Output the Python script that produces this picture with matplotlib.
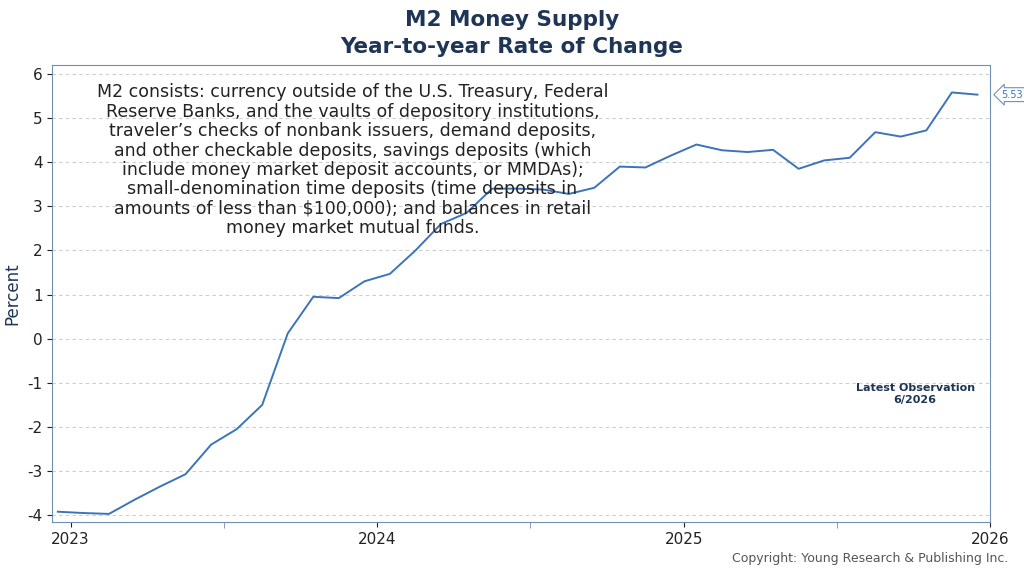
import numpy as np
import matplotlib.pyplot as plt

# monthly YoY % change, mid-Dec 2022 .. mid-Dec 2025
values = [-3.92, -3.95, -3.97, -3.65, -3.35, -3.07, -2.40, -2.05, -1.50, 0.12,
          0.95, 0.92, 1.30, 1.47, 2.00, 2.60, 2.85, 3.40, 3.40, 3.38,
          3.28, 3.42, 3.90, 3.88, 4.15, 4.40, 4.27, 4.23, 4.28, 3.85,
          4.04, 4.10, 4.68, 4.58, 4.72, 5.58, 5.53]
x = [2023 + (i - 0.5) / 12 for i in range(len(values))]
year_ticks = [2023, 2024, 2025, 2026]
note = ("M2 consists: currency outside of the U.S. Treasury, Federal\n"
        "Reserve Banks, and the vaults of depository institutions,\n"
        "traveler\u2019s checks of nonbank issuers, demand deposits,\n"
        "and other checkable deposits, savings deposits (which\n"
        "include money market deposit accounts, or MMDAs);\n"
        "small-denomination time deposits (time deposits in\n"
        "amounts of less than $100,000); and balances in retail\n"
        "money market mutual funds.")

navy = '#1f3556'
blue = '#3b74b8'
frame = '#6f8fb5'

plt.rcParams['axes.unicode_minus'] = False
fig = plt.figure(figsize=(10.24, 5.76), dpi=100)
ax = fig.add_axes([0.051, 0.094, 0.916, 0.793])
ax.plot(x, values, color=blue, lw=1.4)

ax.set_xlim(2022.94, 2026.0)
ax.set_ylim(-4.15, 6.2)
ax.set_yticks(range(-4, 7))
ax.set_xticks(year_ticks)
ax.set_xticks([2023.5, 2024.5, 2025.5], minor=True)
ax.tick_params(axis='both', labelsize=11, colors='#222222', direction='out')
ax.tick_params(axis='x', which='minor', length=4, color=frame)
ax.grid(axis='y', ls=(0, (3, 3)), color='#cccccc', lw=0.8)
for s in ax.spines.values():
    s.set_color(frame)
ax.set_ylabel('Percent', fontsize=12, color=navy, labelpad=4)

ax.annotate(f'{values[-1]:.2f}', xy=(1.0, values[-1]), xycoords=('axes fraction', 'data'),
            xytext=(8, 0), textcoords='offset points', fontsize=7, color=blue, va='center',
            bbox=dict(boxstyle='larrow,pad=0.2', fc='white', ec=frame, lw=0.8),
            annotation_clip=False)

fig.text(0.5, 0.965, 'M2 Money Supply', ha='center', va='center', fontsize=15.5,
         fontweight='bold', color=navy)
fig.text(0.5, 0.918, 'Year-to-year Rate of Change', ha='center', va='center', fontsize=15.5,
         fontweight='bold', color=navy)
ax.text(0.32, 0.96, note, transform=ax.transAxes, ha='center', va='top',
        fontsize=12.5, color='#222222', linespacing=1.1)
ax.text(0.92, 0.28, 'Latest Observation\n6/2026', transform=ax.transAxes, ha='center',
        va='center', fontsize=8, fontweight='bold', color=navy)
fig.text(0.985, 0.025, 'Copyright: Young Research & Publishing Inc.', ha='right',
         fontsize=9, color='#555555')

fig.savefig('out.png', dpi=100)
